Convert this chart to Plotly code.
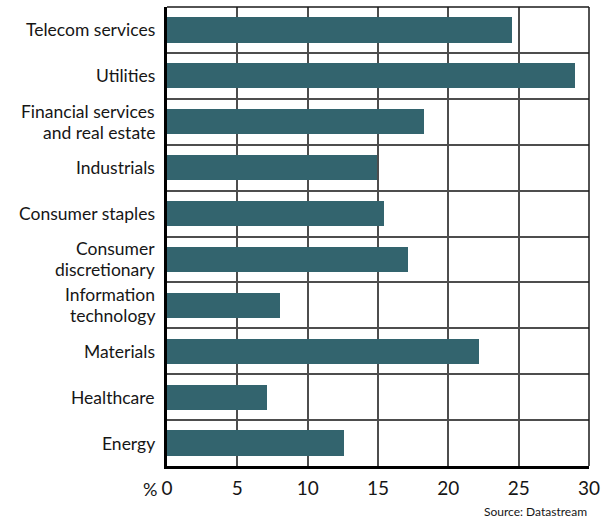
import plotly.graph_objects as go

# Sectors, top to bottom, and their values (%)
sectors = [
    "Telecom services",
    "Utilities",
    "Financial services<br>and real estate",
    "Industrials",
    "Consumer staples",
    "Consumer<br>discretionary",
    "Information<br>technology",
    "Materials",
    "Healthcare",
    "Energy",
]
values = [24.5, 29.0, 18.3, 14.9, 15.4, 17.1, 8.0, 22.2, 7.1, 12.6]
x_ticks = [0, 5, 10, 15, 20, 25, 30]

positions = list(range(len(sectors)))
FONT = "Lato, 'Open Sans', sans-serif"
LABEL_FONT = dict(family=FONT, size=17.5, color="#161616")
LINE_STEP = 21  # px between lines of a wrapped category label

fig = go.Figure(
    go.Bar(
        x=values,
        y=positions,
        orientation="h",
        width=0.55,
        marker=dict(color="#33646e", line=dict(width=0)),
        hoverinfo="x+y",
    )
)

fig.update_layout(
    width=608,
    height=520,
    margin=dict(l=167, r=19, t=7, b=54),
    plot_bgcolor="white",
    paper_bgcolor="white",
    font=dict(family=FONT, size=15, color="#161616"),
    showlegend=False,
    bargap=0,
)

fig.update_xaxes(
    range=[0, 30],
    tickvals=x_ticks,
    ticktext=[str(v) for v in x_ticks],
    tickfont=dict(size=19),
    ticklabelstandoff=3,
    showgrid=True,
    gridcolor="#4d4d4d",
    gridwidth=1.5,
    showline=True,
    linecolor="black",
    linewidth=3,
    ticks="",
    zeroline=False,
    fixedrange=True,
)

fig.update_yaxes(
    range=[len(sectors) - 0.5, -0.5],
    tickvals=positions,
    showticklabels=False,
    showgrid=False,
    showline=True,
    linecolor="black",
    linewidth=3,
    ticks="",
    zeroline=False,
    minor=dict(
        tickmode="array",
        tickvals=[p + 0.5 for p in positions[:-1]],
        showgrid=True,
        gridcolor="#4d4d4d",
        gridwidth=1.5,
        ticks="",
    ),
    fixedrange=True,
)

# Category labels, one annotation per text line for tight line spacing
for pos, label in zip(positions, sectors):
    lines = label.split("<br>")
    n = len(lines)
    for i, line in enumerate(lines):
        offset = (i - (n - 1) / 2) * LINE_STEP
        fig.add_annotation(
            text=line, xref="paper", yref="y", x=0, y=pos,
            xanchor="right", yanchor="middle", xshift=-10, yshift=-offset,
            showarrow=False, font=LABEL_FONT,
        )

# Thin frame on the top and right sides of the plot area
fig.add_shape(type="line", xref="x domain", yref="y domain",
              x0=0, x1=1, y0=1, y1=1, line=dict(color="#1a1a1a", width=1.5))
fig.add_shape(type="line", xref="x domain", yref="y domain",
              x0=1, x1=1, y0=0, y1=1, line=dict(color="#1a1a1a", width=1.5))

# Unit label left of the x-axis origin
fig.add_annotation(
    text="%", xref="paper", yref="paper", x=0, y=0,
    xanchor="right", yanchor="middle", xshift=-8, yshift=-23,
    showarrow=False, font=dict(size=18),
)

# Source note
fig.add_annotation(
    text="Source: Datastream", xref="paper", yref="paper", x=1, y=0,
    xanchor="right", yanchor="middle", yshift=-45,
    showarrow=False, font=dict(size=12),
)

fig.write_html("out.html")
